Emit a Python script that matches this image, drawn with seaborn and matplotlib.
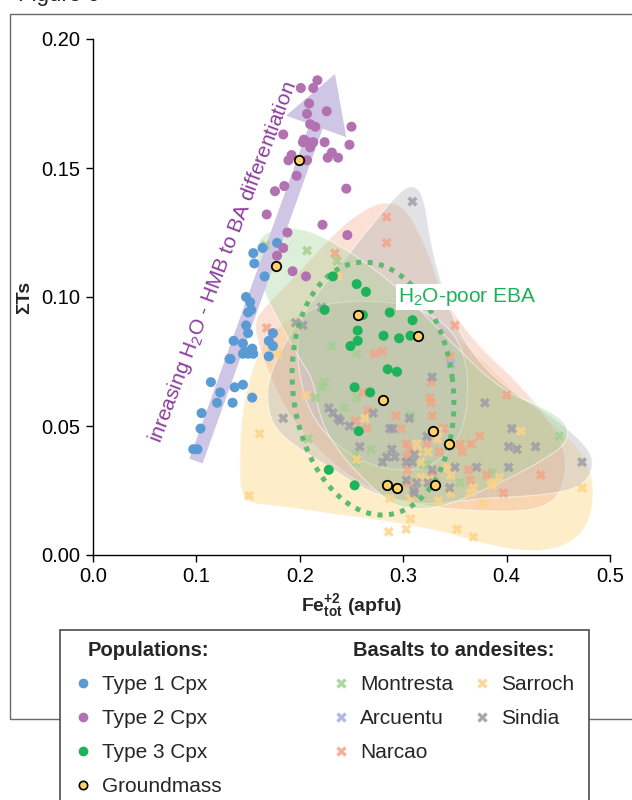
import numpy as np
import pandas as pd
import matplotlib
matplotlib.use("Agg")
import matplotlib.pyplot as plt
import seaborn as sns
from matplotlib.patches import Rectangle, FancyArrowPatch, Polygon
from matplotlib.lines import Line2D

# ---------------- data ----------------
T1_X = [0.178, 0.164, 0.155, 0.156, 0.166, 0.148, 0.152, 0.153, 0.150, 0.148, 0.150, 0.174,
        0.136, 0.145, 0.147, 0.145, 0.154, 0.155, 0.150, 0.170, 0.174, 0.170, 0.132, 0.133,
        0.114, 0.137, 0.145, 0.123, 0.120, 0.135, 0.154, 0.105, 0.104, 0.097, 0.101]
T1_Y = [0.121, 0.119, 0.117, 0.113, 0.108, 0.100, 0.098, 0.095, 0.094, 0.089, 0.086, 0.086,
        0.083, 0.082, 0.079, 0.078, 0.080, 0.078, 0.078, 0.083, 0.081, 0.077, 0.076, 0.076,
        0.067, 0.065, 0.066, 0.063, 0.059, 0.059, 0.061, 0.055, 0.049, 0.041, 0.041]

T2_X = [0.217, 0.213, 0.201, 0.209, 0.226, 0.207, 0.210, 0.215, 0.250, 0.184, 0.204, 0.203,
        0.208, 0.213, 0.224, 0.210, 0.248, 0.231, 0.227, 0.237, 0.192, 0.189, 0.207, 0.197,
        0.185, 0.176, 0.245, 0.168, 0.222, 0.188, 0.246, 0.184, 0.178, 0.193, 0.206]
T2_Y = [0.184, 0.181, 0.181, 0.175, 0.172, 0.171, 0.167, 0.166, 0.166, 0.163, 0.161, 0.160,
        0.160, 0.160, 0.160, 0.158, 0.159, 0.156, 0.154, 0.154, 0.155, 0.153, 0.153, 0.147,
        0.143, 0.141, 0.142, 0.132, 0.128, 0.125, 0.124, 0.119, 0.116, 0.110, 0.108]

T3_X = [0.232, 0.255, 0.264, 0.224, 0.261, 0.287, 0.309, 0.256, 0.256, 0.249, 0.281, 0.296,
        0.307, 0.285, 0.294, 0.253, 0.268, 0.257, 0.228, 0.253]
T3_Y = [0.108, 0.105, 0.102, 0.095, 0.093, 0.094, 0.091, 0.087, 0.083, 0.081, 0.085, 0.084,
        0.085, 0.072, 0.071, 0.065, 0.063, 0.048, 0.033, 0.027]

GM_X = [0.199, 0.177, 0.256, 0.314, 0.280, 0.329, 0.344, 0.284, 0.294, 0.331]
GM_Y = [0.153, 0.112, 0.093, 0.085, 0.060, 0.048, 0.043, 0.027, 0.026, 0.027]

MON_X = [0.207, 0.167, 0.236, 0.231, 0.255, 0.224, 0.222, 0.215, 0.255, 0.243, 0.307, 0.269,
         0.254, 0.255, 0.319, 0.323, 0.386, 0.355, 0.451, 0.208]
MON_Y = [0.118, 0.120, 0.114, 0.081, 0.078, 0.067, 0.065, 0.061, 0.061, 0.057, 0.054, 0.041,
         0.039, 0.036, 0.035, 0.035, 0.032, 0.028, 0.046, 0.045]

ARC_X = [0.346]
ARC_Y = [0.074]

NAR_X = [0.284, 0.284, 0.234, 0.168, 0.350, 0.345, 0.272, 0.280, 0.327, 0.400, 0.261, 0.326,
         0.327, 0.266, 0.293, 0.328, 0.254, 0.265, 0.298, 0.339, 0.374, 0.303, 0.323, 0.355,
         0.357, 0.366, 0.303, 0.329, 0.363, 0.365, 0.381, 0.433, 0.397, 0.305, 0.304, 0.306,
         0.335]
NAR_Y = [0.131, 0.121, 0.117, 0.088, 0.089, 0.077, 0.078, 0.079, 0.067, 0.062, 0.063, 0.061,
         0.059, 0.056, 0.054, 0.054, 0.052, 0.049, 0.049, 0.049, 0.046, 0.043, 0.043, 0.043,
         0.040, 0.043, 0.038, 0.032, 0.033, 0.029, 0.031, 0.031, 0.024, 0.028, 0.033, 0.041,
         0.040]

SAR_X = [0.237, 0.179, 0.206, 0.263, 0.161, 0.255, 0.151, 0.334, 0.414, 0.313, 0.333, 0.324,
         0.314, 0.317, 0.325, 0.343, 0.346, 0.387, 0.393, 0.385, 0.473, 0.377, 0.365, 0.368,
         0.346, 0.334, 0.307, 0.303, 0.286, 0.352, 0.368, 0.287, 0.307, 0.317]
SAR_Y = [0.108, 0.078, 0.062, 0.053, 0.047, 0.037, 0.023, 0.048, 0.048, 0.043, 0.045, 0.040,
         0.040, 0.036, 0.029, 0.034, 0.031, 0.028, 0.030, 0.027, 0.026, 0.020, 0.024, 0.026,
         0.024, 0.021, 0.014, 0.010, 0.009, 0.010, 0.007, 0.022, 0.022, 0.030]

SIN_X = [0.309, 0.221, 0.196, 0.203, 0.328, 0.379, 0.184, 0.228, 0.232, 0.237, 0.239, 0.271,
         0.306, 0.248, 0.287, 0.290, 0.323, 0.405, 0.258, 0.402, 0.410, 0.428, 0.289, 0.292,
         0.284, 0.280, 0.311, 0.309, 0.303, 0.328, 0.350, 0.371, 0.402, 0.473, 0.345, 0.303,
         0.310, 0.311, 0.324, 0.313]
SIN_Y = [0.137, 0.096, 0.090, 0.089, 0.069, 0.059, 0.053, 0.057, 0.055, 0.053, 0.052, 0.055,
         0.053, 0.050, 0.049, 0.049, 0.046, 0.049, 0.042, 0.042, 0.041, 0.042, 0.041, 0.038,
         0.038, 0.036, 0.039, 0.036, 0.036, 0.033, 0.034, 0.034, 0.034, 0.036, 0.026, 0.029,
         0.025, 0.024, 0.028, 0.028]

# envelope outlines of the basalt-to-andesite fields (data units)
SAR_ENV_X = [0.163, 0.186, 0.229, 0.297, 0.355, 0.413, 0.466, 0.484, 0.483, 0.469, 0.437, 0.389,
             0.340, 0.287, 0.229, 0.181, 0.150, 0.142, 0.142, 0.147]
SAR_ENV_Y = [0.082, 0.091, 0.098, 0.100, 0.084, 0.061, 0.044, 0.031, 0.016, 0.006, 0.001, 0.003,
             0.009, 0.013, 0.016, 0.019, 0.020, 0.025, 0.045, 0.063]
NAR_ENV_X = [0.263, 0.282, 0.302, 0.323, 0.338, 0.368, 0.413, 0.442, 0.458, 0.456, 0.447, 0.423,
             0.374, 0.316, 0.268, 0.220, 0.186, 0.166, 0.155, 0.163, 0.200, 0.239]
NAR_ENV_Y = [0.134, 0.137, 0.135, 0.119, 0.100, 0.083, 0.066, 0.052, 0.039, 0.029, 0.021, 0.017,
             0.017, 0.019, 0.025, 0.039, 0.056, 0.074, 0.089, 0.095, 0.110, 0.127]
SIN_ENV_X = [0.309, 0.320, 0.326, 0.338, 0.357, 0.394, 0.447, 0.481, 0.484, 0.471, 0.432, 0.374,
             0.316, 0.268, 0.229, 0.200, 0.178, 0.169, 0.169, 0.186, 0.220, 0.258, 0.292]
SIN_ENV_Y = [0.144, 0.139, 0.122, 0.103, 0.083, 0.066, 0.053, 0.041, 0.033, 0.026, 0.023, 0.022,
             0.019, 0.024, 0.034, 0.041, 0.048, 0.056, 0.068, 0.083, 0.103, 0.122, 0.139]
MON_ENV_X = [0.157, 0.171, 0.200, 0.229, 0.258, 0.297, 0.345, 0.394, 0.442, 0.460, 0.458, 0.432,
             0.394, 0.336, 0.297, 0.275, 0.239, 0.220, 0.213, 0.200, 0.179, 0.161]
MON_ENV_Y = [0.121, 0.126, 0.127, 0.122, 0.115, 0.103, 0.083, 0.064, 0.056, 0.050, 0.043, 0.036,
             0.028, 0.018, 0.018, 0.024, 0.039, 0.052, 0.068, 0.076, 0.091, 0.106]
ARC_ENV_X = [0.207, 0.258, 0.307, 0.345, 0.361, 0.363, 0.355, 0.326, 0.278, 0.239, 0.210, 0.198, 0.198]
ARC_ENV_Y = [0.096, 0.099, 0.097, 0.089, 0.076, 0.060, 0.045, 0.033, 0.033, 0.041, 0.054, 0.072, 0.087]

POP_LABELS = ["Type 1 Cpx", "Type 2 Cpx", "Type 3 Cpx", "Groundmass"]
LOC_LABELS = ["Montresta", "Arcuentu", "Narcao", "Sarroch", "Sindia"]
X_TICKS = [0.0, 0.1, 0.2, 0.3, 0.4, 0.5]
Y_TICKS = [0.00, 0.05, 0.10, 0.15, 0.20]

# ---------------- styles ----------------
POP_COLORS = {"Type 1 Cpx": "#5b9bd5", "Type 2 Cpx": "#b271b1", "Type 3 Cpx": "#1db35b"}
GM_COLOR = "#ffd166"
LOC_COLORS = {"Montresta": "#a3cf8f", "Arcuentu": "#9fb1e3", "Narcao": "#f5a385",
              "Sarroch": "#fdd386", "Sindia": "#9a9aa6"}
ENV_COLORS = {"Sarroch": ("#fcd67f", 0.42), "Narcao": ("#f4a582", 0.33),
              "Sindia": ("#b0b0b6", 0.36), "Arcuentu": ("#b7bbe0", 0.25),
              "Montresta": ("#a8d59a", 0.38)}

sns.set_theme(style="white")
plt.rcParams['font.family'] = ['Liberation Sans', 'DejaVu Sans']
plt.rcParams['mathtext.fontset'] = 'custom'
plt.rcParams['mathtext.rm'] = 'Liberation Sans'
plt.rcParams['mathtext.it'] = 'Liberation Sans:italic'
plt.rcParams['mathtext.bf'] = 'Liberation Sans:bold'
plt.rcParams['mathtext.default'] = 'regular'

W, H = 632, 800
fig = plt.figure(figsize=(W / 100, H / 100), dpi=100)
ax = fig.add_axes([93 / W, 1 - 555 / H, (610 - 93) / W, (555 - 39) / H])
ax.set_xlim(0, 0.5)
ax.set_ylim(0, 0.2)


def chaikin(xs, ys, n=4):
    p = np.column_stack([xs, ys]).astype(float)
    for _ in range(n):
        nxt = np.roll(p, -1, axis=0)
        q = 0.75 * p + 0.25 * nxt
        r = 0.25 * p + 0.75 * nxt
        p = np.empty((2 * len(q), 2))
        p[0::2] = q
        p[1::2] = r
    return p


envs = [("Sarroch", SAR_ENV_X, SAR_ENV_Y), ("Narcao", NAR_ENV_X, NAR_ENV_Y),
        ("Sindia", SIN_ENV_X, SIN_ENV_Y), ("Arcuentu", ARC_ENV_X, ARC_ENV_Y),
        ("Montresta", MON_ENV_X, MON_ENV_Y)]
for name, ex, ey in envs:
    col, a = ENV_COLORS[name]
    rgb = matplotlib.colors.to_rgb(col)
    ax.add_patch(Polygon(chaikin(ex, ey), closed=True, facecolor=(*rgb, a),
                         edgecolor=(1, 1, 1, 0.55), lw=0.8, zorder=1))

# basalt-to-andesite analyses
df_bas = pd.concat([
    pd.DataFrame({"x": MON_X, "y": MON_Y, "loc": "Montresta"}),
    pd.DataFrame({"x": ARC_X, "y": ARC_Y, "loc": "Arcuentu"}),
    pd.DataFrame({"x": NAR_X, "y": NAR_Y, "loc": "Narcao"}),
    pd.DataFrame({"x": SAR_X, "y": SAR_Y, "loc": "Sarroch"}),
    pd.DataFrame({"x": SIN_X, "y": SIN_Y, "loc": "Sindia"}),
], ignore_index=True)
sns.scatterplot(data=df_bas, x="x", y="y", hue="loc", hue_order=LOC_LABELS,
                palette=LOC_COLORS, marker="x", s=30, linewidth=2.6, alpha=0.8,
                legend=False, ax=ax, zorder=3)

# H2O-poor EBA dotted ellipse (drawn in display space)
ELL_CX, ELL_CY = 0.2708, 0.0645
ELL_A_PX, ELL_B_PX, ELL_ROT = 80, 127, np.deg2rad(7)
c = ax.transData.transform((ELL_CX, ELL_CY))
t = np.linspace(0, 2 * np.pi, 600)
u, v = ELL_A_PX * np.cos(t), ELL_B_PX * np.sin(t)
dx = u * np.cos(ELL_ROT) - v * np.sin(ELL_ROT)
dy = u * np.sin(ELL_ROT) + v * np.cos(ELL_ROT)
ell = ax.transData.inverted().transform(np.column_stack([c[0] + dx, c[1] + dy]))
ax.plot(ell[:, 0], ell[:, 1], color="#5dba70", lw=3.6, linestyle=(0, (1.0, 1.3)),
        dash_capstyle="butt", zorder=4)

# differentiation arrow
arrow = FancyArrowPatch(posA=(0.0996, 0.0364), posB=(0.234, 0.1864),
                        arrowstyle="simple,head_length=4,head_width=4.6,tail_width=1.0",
                        mutation_scale=10, fc="#cfc5e4", ec="none", shrinkA=0, shrinkB=0,
                        zorder=2.5)
ax.add_patch(arrow)

# populations
df_pop = pd.concat([
    pd.DataFrame({"x": T1_X, "y": T1_Y, "pop": "Type 1 Cpx"}),
    pd.DataFrame({"x": T2_X, "y": T2_Y, "pop": "Type 2 Cpx"}),
    pd.DataFrame({"x": T3_X, "y": T3_Y, "pop": "Type 3 Cpx"}),
], ignore_index=True)
sns.scatterplot(data=df_pop, x="x", y="y", hue="pop", hue_order=POP_LABELS[:3],
                palette=POP_COLORS, s=52, linewidth=0, legend=False, ax=ax, zorder=6)
sns.scatterplot(x=GM_X, y=GM_Y, color=GM_COLOR, edgecolor="black", linewidth=1.3,
                s=46, legend=False, ax=ax, zorder=7)

# annotations
ax.text(0.1257, 0.1136, "inreasing H$_2$O - HMB to BA differentiation", rotation=69.3,
        rotation_mode="anchor", ha="center", va="center", color="#8a3d9c", fontsize=15,
        zorder=8)
ax.text(0.295, 0.100, "H$_2$O-poor EBA", ha="left", va="center", color="#21b05a",
        fontsize=15, zorder=8,
        bbox=dict(boxstyle="square,pad=0.08", fc="white", ec="none"))

# axes styling
ax.set_xticks(X_TICKS)
ax.set_xticklabels([f"{v:.1f}" for v in X_TICKS])
ax.set_yticks(Y_TICKS)
ax.set_yticklabels([f"{v:.2f}" for v in Y_TICKS])
ax.tick_params(axis="both", direction="out", length=5, width=1, labelsize=14.5,
               colors="black", left=True, bottom=True, pad=4)
for s in ["top", "right"]:
    ax.spines[s].set_visible(False)
for s in ["left", "bottom"]:
    ax.spines[s].set_color("black")
    ax.spines[s].set_linewidth(1)
ax.set_xlabel(r"$\mathbf{Fe^{+2}_{tot}}$ (apfu)", fontsize=14, fontweight="bold", labelpad=4)
ax.set_ylabel("ΣTs", fontsize=14, fontweight="bold", labelpad=6)
ax.grid(False)

# outer frame, partial title, legend box
fig.text(18 / W, 1 - 1 / H, "Figure 6", fontsize=16, va="baseline", ha="left")
fig.add_artist(Rectangle((10 / W, 1 - 719 / H), (650 - 10) / W, (719 - 14) / H,
                         transform=fig.transFigure, fill=False, ec="#6a6a6a", lw=1, zorder=1))
fig.add_artist(Rectangle((60 / W, -0.05), (589 - 60) / W, 0.05 + (1 - 630 / H),
                         transform=fig.transFigure, fc="white", ec="#4d4d4d", lw=1.2, zorder=5))

pop_handles = [Line2D([], [], marker="o", ls="none", mfc=POP_COLORS[k], mec=POP_COLORS[k],
                      ms=6) for k in POP_LABELS[:3]]
pop_handles.append(Line2D([], [], marker="o", ls="none", mfc=GM_COLOR, mec="black", mew=1.2, ms=6))
loc_handles = [Line2D([], [], marker="x", ls="none", color=LOC_COLORS[k], mew=2.4, ms=6,
                      alpha=0.85) for k in LOC_LABELS]

common = dict(loc="upper left", frameon=False, fontsize=15,
              title_fontproperties={"weight": "bold", "size": 14.5},
              handlelength=0.75, handletextpad=0.55, labelspacing=0.72,
              borderpad=0, borderaxespad=0, alignment="center")
leg1 = fig.legend(pop_handles, POP_LABELS, title="Populations:",
                  bbox_to_anchor=(75 / W, 1 - 641 / H), **common)
leg2 = fig.legend(loc_handles, LOC_LABELS, title="Basalts to andesites:", ncols=2,
                  columnspacing=1.0, bbox_to_anchor=(333 / W, 1 - 641 / H), **common)
leg1.set_zorder(10)
leg2.set_zorder(10)

fig.savefig("out.png", dpi=100)
